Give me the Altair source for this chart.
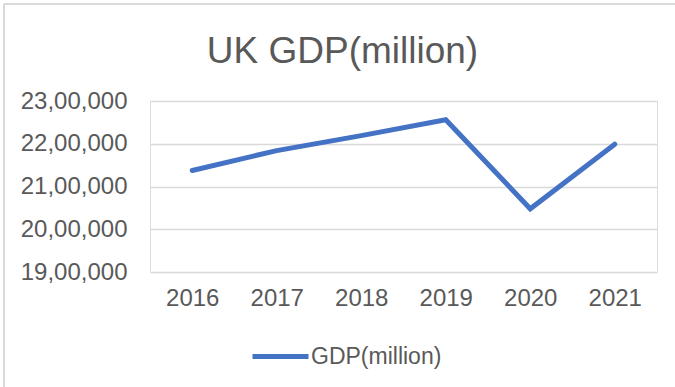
import altair as alt
import pandas as pd

years = ["2016", "2017", "2018", "2019", "2020", "2021"]
gdp = [2137500, 2184000, 2219000, 2256000, 2047800, 2199000]
series = ["GDP(million)"] * len(years)
y_ticks = [1900000, 2000000, 2100000, 2200000, 2300000]
title_text = ["UK GDP(million)"]

df = pd.DataFrame({"year": years, "gdp": gdp, "series": series})
tdf = pd.DataFrame({"t": title_text})

FONT = "Liberation Sans"
TXT = "#595959"
GRID = "#d9d9d9"

label_expr = ("format(floor(datum.value/100000),'d') + ',' + "
              "slice(format(100000 + datum.value % 100000,'d'),1,3) + ',' + "
              "slice(format(1000 + datum.value % 1000,'d'),1)")

line = alt.Chart(df).mark_line(strokeWidth=5, strokeCap="round", strokeJoin="miter").encode(
    x=alt.X("year:O", scale=alt.Scale(type="point", padding=0.5),
            axis=alt.Axis(title=None, labelAngle=0, ticks=False, domain=False,
                          labelFontSize=24, labelColor=TXT, labelFont=FONT,
                          labelPadding=14, grid=False)),
    y=alt.Y("gdp:Q", scale=alt.Scale(domain=[1900000, 2300000], nice=False, zero=False),
            axis=alt.Axis(title=None, values=y_ticks, ticks=False, domain=False,
                          labelFontSize=24, labelColor=TXT, labelFont=FONT,
                          labelPadding=23, labelExpr=label_expr,
                          gridColor=GRID, gridWidth=1.5)),
    color=alt.Color("series:N", scale=alt.Scale(range=["#4472C4"]),
                    legend=alt.Legend(title=None, orient="none", legendX=100, legendY=225,
                                      symbolType="stroke", symbolSize=3136,
                                      symbolStrokeWidth=5, labelFontSize=23,
                                      labelColor=TXT, labelFont=FONT, labelOffset=0,
                                      padding=0)),
)

title = alt.Chart(tdf).mark_text(font=FONT, fontSize=37, color=TXT, align="center",
                                 baseline="alphabetic").encode(
    text="t:N", x=alt.value(192.5), y=alt.value(-38))

border_left = alt.Chart(df).mark_rule(color=GRID, strokeWidth=2).encode(
    x=alt.value(-146), y=alt.value(-97), y2=alt.value(290))
border_top = alt.Chart(df).mark_rule(color=GRID, strokeWidth=2).encode(
    x=alt.value(-146), x2=alt.value(530), y=alt.value(-97))

chart = alt.layer(border_left, border_top, title, line).properties(
    width=507, height=171,
    padding={"left": 150, "top": 101, "right": 18, "bottom": 115},
    autosize=alt.AutoSizeParams(type="none"),
).configure_view(stroke=None).configure(background="white")

chart.save("out.html", embed_options={"renderer": "svg", "actions": False})
